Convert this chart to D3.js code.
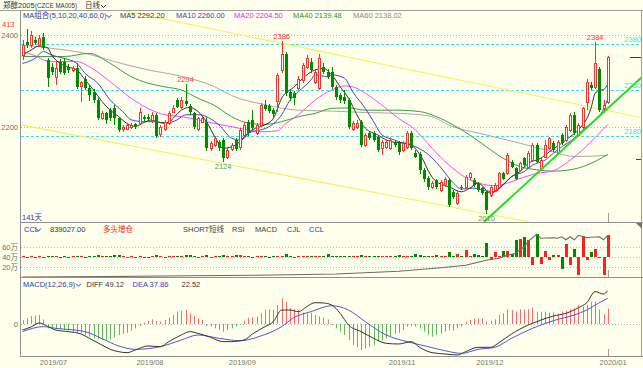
<!DOCTYPE html>
<html><head><meta charset="utf-8">
<script src="https://cdn.jsdelivr.net/npm/d3@7"></script>
<style>html,body{margin:0;padding:0;background:#FFFFEE;overflow:hidden}</style>
</head><body>
<script>
// ---------- DATA ----------
const opens=[2356,2385,2378,2389,2378,2396,2345,2331,2309,2342,
2342,2331,2324,2327,2289,2305,2284,2276,2258,2218,
2229,2236,2240,2218,2194,2196,2200,2205,2207,2222,
2222,2215,2226,2184,2194,2207,2233,2258,2242,2255,
2245,2229,2195,2211,2210,2153,2160,2167,2171,2135,
2151,2171,2156,2182,2211,2215,2186,2204,2247,2245,
2236,2255,2324,2358,2276,2273,2284,2302,2331,2342,
2298,2284,2331,2320,2320,2287,2269,2265,2258,2196,
2200,2211,2160,2186,2186,2178,2153,2156,2153,2167,
2164,2149,2156,2186,2142,2140,2106,2088,2069,2084,
2062,2073,2084,2058,2033,2069,2069,2091,2084,2077,
2066,2058,2051,2062,2069,2098,2098,2124,2109,2105,
2131,2113,2127,2160,2109,2135,2153,2164,2142,2182,
2171,2193,2226,2182,2200,2254,2291,2287,2326,2240,2254];
const highs=[2389,2413,2408,2395,2400,2405,2350,2340,2345,2348,
2350,2336,2333,2340,2300,2310,2290,2282,2262,2234,
2233,2240,2247,2222,2204,2208,2207,2209,2240,2226,
2228,2232,2230,2204,2215,2234,2247,2262,2265,2294,
2250,2233,2222,2222,2222,2168,2180,2172,2175,2155,
2165,2175,2197,2210,2215,2237,2208,2252,2258,2250,
2240,2318,2386,2362,2282,2278,2310,2340,2356,2349,
2326,2358,2338,2325,2331,2291,2274,2280,2262,2212,
2215,2215,2187,2190,2190,2182,2171,2171,2178,2171,
2168,2168,2190,2190,2150,2144,2110,2092,2082,2087,
2084,2090,2088,2062,2060,2073,2095,2102,2088,2080,
2069,2062,2073,2077,2102,2102,2142,2128,2113,2124,
2135,2146,2164,2164,2131,2171,2178,2168,2171,2186,
2204,2230,2231,2208,2244,2305,2298,2384,2331,2258,2355];
const lows=[2345,2372,2372,2378,2374,2368,2287,2312,2291,2315,
2312,2318,2320,2283,2254,2280,2255,2252,2214,2214,
2205,2212,2204,2188,2189,2192,2196,2195,2204,2212,
2212,2207,2176,2178,2190,2204,2229,2240,2238,2246,
2226,2196,2190,2207,2148,2148,2156,2148,2124,2130,
2146,2146,2150,2178,2180,2193,2182,2200,2234,2229,
2222,2233,2318,2268,2256,2247,2280,2296,2326,2318,
2294,2280,2316,2304,2283,2258,2252,2249,2196,2191,
2196,2156,2156,2171,2167,2145,2138,2151,2149,2156,
2138,2145,2151,2149,2131,2096,2080,2062,2064,2065,
2058,2069,2025,2042,2030,2062,2065,2084,2069,2058,
2051,2010,2047,2058,2066,2084,2095,2109,2084,2102,
2113,2109,2124,2120,2105,2131,2149,2145,2138,2160,
2167,2189,2182,2178,2196,2236,2280,2283,2232,2230,2250];
const closes=[2378,2378,2400,2382,2393,2371,2306,2320,2327,2320,
2317,2324,2329,2287,2297,2284,2269,2258,2218,2229,
2215,2218,2218,2193,2200,2204,2204,2199,2233,2216,
2216,2226,2180,2200,2211,2229,2241,2244,2258,2250,
2231,2200,2218,2218,2153,2164,2175,2153,2131,2150,
2160,2151,2193,2204,2186,2197,2204,2247,2239,2234,
2227,2313,2358,2273,2262,2262,2305,2335,2349,2324,
2320,2349,2320,2309,2287,2265,2258,2256,2200,2207,
2207,2160,2182,2175,2171,2149,2167,2167,2171,2160,
2145,2164,2186,2153,2135,2105,2086,2069,2077,2069,
2080,2085,2029,2047,2055,2066,2091,2100,2073,2062,
2055,2018,2069,2073,2098,2087,2138,2113,2087,2120,
2116,2142,2160,2124,2127,2160,2175,2149,2167,2164,
2200,2226,2186,2204,2240,2298,2284,2338,2236,2247,2352];

// moving averages: [bar index, value]
const ma5=[[0,2356],[2,2367],[4,2376],[6,2372],[7,2356],[9,2338],[11,2330],[13,2324],[15,2302],[17,2280],[19,2255],[21,2236],[23,2222],[25,2207],[27,2201],[29,2209],[31,2215],[33,2209],[35,2209],[36,2218],[38,2236],[40,2242],[42,2233],[44,2211],[46,2178],[48,2153],[50,2156],[53,2175],[55,2193],[58,2204],[60,2218],[62,2262],[65,2287],[67,2305],[70,2324],[72,2327],[74,2313],[76,2287],[78,2262],[80,2226],[82,2197],[85,2182],[87,2171],[89,2166],[92,2164],[94,2152],[95,2140],[96,2125],[97,2105],[98,2090],[99,2080],[100,2075],[102,2069],[105,2058],[107,2066],[109,2077],[112,2055],[114,2066],[117,2091],[119,2102],[121,2120],[124,2131],[126,2145],[129,2164],[131,2178],[133,2193],[136,2240],[137,2273],[138,2279],[139,2281],[140,2292.2]];
const ma10=[[0,2338],[3,2349],[5,2364],[7,2356],[10,2349],[13,2338],[15,2316],[18,2295],[21,2258],[24,2233],[26,2215],[29,2211],[32,2211],[34,2207],[37,2215],[39,2226],[42,2226],[44,2222],[46,2211],[47,2204],[50,2175],[52,2171],[54,2186],[57,2193],[59,2200],[62,2226],[64,2258],[66,2276],[69,2302],[70,2313],[73,2309],[74,2313],[77,2306],[79,2276],[82,2240],[84,2211],[86,2182],[89,2171],[91,2164],[93,2160],[95,2152],[97,2140],[99,2122],[100,2112],[103,2078],[105,2064],[108,2066],[110,2062],[113,2058],[115,2073],[117,2091],[120,2102],[122,2116],[125,2127],[127,2142],[129,2156],[132,2175],[134,2193],[137,2215],[139,2238],[140,2260]];
const ma20=[[0,2364],[3,2355],[6,2343],[10,2342],[13,2342],[16,2331],[21,2298],[26,2262],[30,2240],[34,2226],[38,2222],[42,2215],[46,2207],[50,2200],[54,2193],[58,2189],[61,2191],[63,2207],[66,2226],[70,2258],[74,2280],[77,2289],[79,2287],[82,2273],[86,2247],[90,2218],[94,2193],[97,2163],[99,2143],[103,2109],[107,2084],[111,2073],[113,2071],[116,2077],[119,2087],[123,2098],[127,2104],[131,2127],[135,2158],[138,2186],[140,2204.5]];
const ma40=[[0,2353],[10,2353],[16,2360],[21,2338],[26,2309],[30,2295],[34,2287],[38,2280],[42,2262],[46,2246],[50,2222],[54,2208],[58,2205],[62,2211],[66,2222],[70,2229],[74,2240],[78,2241],[82,2236],[90,2236],[95,2233],[99,2222],[103,2204],[107,2182],[111,2156],[115,2131],[119,2113],[123,2106],[127,2103],[131,2106],[135,2116],[140,2139.48]];
const ma60=[[0,2378],[7,2371],[15,2360],[22,2342],[30,2324],[38,2310],[46,2287],[50,2268],[58,2248],[66,2236],[74,2234],[82,2231],[90,2229],[97,2224],[103,2200],[111,2182],[119,2164],[127,2145],[132,2135],[137,2136],[140,2138.02]];

// drawn lines (price space): [bar index, price]
const channelUpper=[[24.8,2452],[148.5,2219]];
const channelLower=[[-0.4,2204],[121.4,1992]];
const greenTrend=[[110.4,1992],[148.5,2311]];
const levelLines=[2380,2280,2180];
const gridPrices=[2400,2200];
const peakIdx=[39,62,137];
const troughIdx=[48,111];

// open interest (万) read at sample bars, and daily change (万)
const oiLine=[[0,0.5],[20,1.5],[40,3],[60,4.5],[75,6.5],[90,12],[100,19],[106,24],[111,34],[114,38],[116,44],[118,48],[120,61],[121,72],[123,86],[124,78],[127,79],[128,78],[129,81],[130,75],[131,81],[132,75],[133,84],[135,79],[136,80],[138,81],[139,75],[140,83.9]];
const oiChg=[0.3,-0.3,0.3,0.2,0.3,-0.3,0.4,0.3,0.3,0.2,
0.3,0.2,0.3,0.4,0.3,0.2,0.3,0.5,0.8,0.3,
0.3,0.4,0.8,0.8,0.3,0.2,0.3,0.2,0.3,0.2,
0.2,0.3,0.8,0.3,0.2,0.3,0.3,0.3,0.4,0.8,
0.8,0.3,0.2,0.3,0.8,0.2,0.3,0.4,0.8,0.3,
0.3,0.6,0.6,0.3,0.3,0.2,0.3,0.3,0.3,0.2,
0.3,0.4,0.3,1.2,0.3,0.2,0.3,0.3,0.3,0.3,
0.3,0.3,0.4,1.2,0.4,0.3,0.3,0.3,0.5,0.3,
0.3,0.6,0.3,0.3,0.3,0.4,0.3,0.3,0.3,0.3,
0.6,0.3,0.3,0.3,1.2,0.8,0.3,0.3,0.3,0.8,
0.3,0.3,2.0,0.3,1.2,0.3,2.7,0.4,1.2,0.8,
0.4,5.6,-0.9,2.0,0.4,2.3,2.3,1.3,6.7,7.3,
8.0,6.8,-3.1,9.2,-2.7,2.3,-1.3,0.7,0.7,-4.7,
5.3,-3.3,3.3,-7.3,8.4,-1.3,2.0,3.3,-0.3,-7.3,8.7];
const oiTicks=[60,40,20];

// MACD
const macdHist=[5.9,8.4,11.8,12.3,13.3,6.9,-6.4,-6.4,-7.4,-7.9,
-8.8,-9.8,-11.3,-12.8,-12.8,-16.2,-18.7,-21.1,-22.6,-23.6,
-23.6,-22.6,-19.7,-16.2,-14.7,-12.8,-9.8,-6.4,-2.9,2.0,
4.4,6.9,4.4,3.4,5.9,9.8,13.3,18.2,19.7,20.6,
15.7,11.8,8.4,5.9,-2.9,-3.9,-6.4,-8.8,-11.3,-8.8,
-6.4,-3.9,-1.5,4.9,9.3,9.8,10.8,15.7,20.6,21.6,
20.6,28,37.9,32.9,23.1,21.6,20.6,16.7,15.7,16.7,
13.3,11.3,9.6,6.6,-1.5,-6.4,-11.3,-16.2,-23.6,-31,
-34.4,-38.3,-35.9,-33.4,-31,-26,-23.6,-21.1,-17.7,-14.7,
-12.8,-8.8,-3.9,-2.9,-3.9,-6.4,-11.3,-16.2,-18.7,-16.2,
-13.8,-11.3,-8.8,-9.8,-6.4,-3.9,3.4,5.9,8.4,8.4,
8.4,3.4,4.9,6.9,13.3,15.7,21.6,20.6,18.2,21.6,
21.6,21.6,24.1,18.2,18.2,18.2,16.7,16.7,15.7,18.2,
19.7,21.6,23.1,28,25.6,28,32.9,32.9,21.6,14.7,22.52];
const diffPts=[[0,-8.8],[2,-4.5],[4,1.5],[6,-3.5],[8,-9],[11,-11.3],[14,-14.7],[16,-21.1],[19,-31],[21,-37.4],[23,-40.8],[25,-42.3],[27,-38.3],[30,-32.4],[33,-33.4],[35,-26],[38,-16.2],[40,-11.3],[42,-13.8],[45,-19.7],[48,-26],[50,-26],[53,-23.6],[55,-14.7],[58,-3.9],[60,3.4],[62,20.6],[64,20.6],[66,18.2],[68,25.6],[70,31.5],[72,31],[74,28],[76,15.7],[78,-1.5],[81,-11.3],[84,-21.1],[87,-28.5],[90,-29.5],[93,-26],[95,-34.4],[98,-42.3],[101,-44.2],[104,-45.7],[106,-40.8],[109,-34.4],[112,-34.4],[114,-27.5],[117,-14.7],[121,-1.5],[123,3.4],[127,11.8],[130,15.7],[133,24.1],[135,31.5],[137,47.7],[139,44.2],[140,49.12]];
const deaPts=[[0,-11.3],[5,-3.9],[8,-6.4],[15,-11.3],[19,-21.5],[23,-32.4],[27,-37.4],[33,-33.4],[38,-23.6],[42,-16.2],[47,-21.1],[52,-24.6],[57,-17.7],[62,-3.9],[65,9.8],[69,18.2],[74,27],[78,20.6],[82,3.4],[87,-16.2],[92,-26],[97,-33.4],[101,-39.3],[105,-43.3],[109,-37.4],[113,-34.4],[117,-21.1],[122,-6.4],[127,4.9],[132,13.3],[135,20.6],[138,31.5],[140,37.86]];

const monthLabels=['2019/07','2019/08','2019/09','2019/11','2019/12','2020/01'];
const monthPos=[7.4,30.5,52.6,90.8,111.8,141.3];

// ---------- DRAWING ----------
const W=643,H=368,BG='#FFFFEE';
const FONT="'Liberation Sans','Noto Sans CJK SC',sans-serif";
const RED='#FF3030',GRN='#008A00';
const svg=d3.select('body').append('svg').attr('width',W).attr('height',H).style('display','block');
svg.append('rect').attr('width',W).attr('height',H).attr('fill',BG);

const n=closes.length;
const x=d3.scaleLinear().domain([0,n-1]).range([22.5,607.7]);
const yP=d3.scaleLinear().domain([2200,2400]).range([126.7,35]);
const yOI=d3.scaleLinear().domain([0,60]).range([277.3,247.3]);
const yChg=d3.scaleLinear().domain([0,10]).range([257,232]);
const yM=d3.scaleLinear().domain([0,49.12]).range([324,290.7]);

const defs=svg.append('defs');
function clip(id,x0,y0,w,h){defs.append('clipPath').attr('id',id).append('rect').attr('x',x0).attr('y',y0).attr('width',w).attr('height',h);}
clip('cpP',21,11,620,211.5);
clip('cpO',21,223,620,54);
clip('cpM',21,278,620,78);

function txt(g,xx,yy,s,color,anchor,size){
  return g.append('text').attr('x',xx).attr('y',yy).text(s).attr('fill',color)
   .attr('font-family',FONT).attr('font-size',size||7.5).attr('text-anchor',anchor||'start');
}
function hline(y,x1,x2,color,dash){
  const l=svg.append('line').attr('x1',x1).attr('x2',x2).attr('y1',y).attr('y2',y).attr('stroke',color).attr('stroke-width',1);
  if(dash) l.attr('stroke-dasharray',dash);
  return l;
}
function chevron(xx,yy,color){
  svg.append('path').attr('d',`M${xx},${yy-3}L${xx+2.5},${yy-0.5}L${xx+5},${yy-3}`).attr('fill','none').attr('stroke',color).attr('stroke-width',1);
}
const snap=v=>Math.round(v)+0.5;

// frame lines
hline(10.5,0,643,'#A0A0A0');
hline(222.5,20,643,'#909090');
hline(277.5,20,643,'#909090');
hline(356.5,20,643,'#909090');
svg.append('line').attr('x1',20.5).attr('x2',20.5).attr('y1',10).attr('y2',357).attr('stroke','#909090');
svg.append('line').attr('x1',641.5).attr('x2',641.5).attr('y1',10).attr('y2',357).attr('stroke','#A0A0A0');

// ---- price panel ----
const gP=svg.append('g').attr('clip-path','url(#cpP)');
gridPrices.forEach(p=>{gP.append('line').attr('x1',21).attr('x2',641).attr('y1',snap(yP(p))).attr('y2',snap(yP(p))).attr('stroke','#B5B5B5').attr('stroke-dasharray','1,2');});
levelLines.forEach(p=>{gP.append('line').attr('x1',21).attr('x2',641).attr('y1',snap(yP(p))).attr('y2',snap(yP(p))).attr('stroke','#3ADDEE').attr('stroke-dasharray','3,2');});

const tl=d3.line().x(d=>x(d[0])).y(d=>yP(d[1]));
gP.append('path').attr('d',tl(channelUpper)).attr('stroke','#F2F25A').attr('fill','none').attr('stroke-width',1.1);
gP.append('path').attr('d',tl(channelLower)).attr('stroke','#F2F25A').attr('fill','none').attr('stroke-width',1.1);

// MA lines
const maLine=d3.line().x(d=>x(d[0])).y(d=>yP(d[1])).curve(d3.curveMonotoneX);
[[ma60,'#A8A8A8'],[ma40,'#3E9E3E'],[ma20,'#FF44FF'],[ma10,'#4646C8'],[ma5,'#303030']].forEach(([d,c])=>{
  gP.append('path').attr('d',maLine(d)).attr('stroke',c).attr('fill','none').attr('stroke-width',1);
});

// candles
for(let i=0;i<n;i++){
  const cx=snap(x(i));
  const up=closes[i]>=opens[i];
  const yo=yP(opens[i]),yc=yP(closes[i]),yh=Math.round(yP(highs[i])),yl=Math.round(yP(lows[i]));
  const top=Math.round(Math.min(yo,yc)),bot=Math.round(Math.max(yo,yc));
  const col=up?RED:GRN;
  if(up){
    if(top>yh) gP.append('line').attr('x1',cx).attr('x2',cx).attr('y1',yh).attr('y2',top).attr('stroke',col);
    if(yl>bot) gP.append('line').attr('x1',cx).attr('x2',cx).attr('y1',bot).attr('y2',yl).attr('stroke',col);
    gP.append('rect').attr('x',cx-1).attr('y',top+0.5).attr('width',2).attr('height',Math.max(bot-top,1)).attr('fill',BG).attr('stroke',col).attr('stroke-width',1);
  } else {
    gP.append('line').attr('x1',cx).attr('x2',cx).attr('y1',yh).attr('y2',yl).attr('stroke',col);
    gP.append('rect').attr('x',cx-1.5).attr('y',top).attr('width',3).attr('height',Math.max(bot-top,1)).attr('fill',col);
  }
}
gP.append('path').attr('d',tl(greenTrend)).attr('stroke','#22DD22').attr('fill','none').attr('stroke-width',2);
// last-bar marker
gP.append('line').attr('x1',snap(x(n-1))).attr('x2',snap(x(n-1))).attr('y1',213).attr('y2',222).attr('stroke','#A0A0A0');

// peak/trough labels
peakIdx.forEach(i=>txt(svg,x(i),yP(highs[i])-2,String(highs[i]),'#FF3333','middle'));
troughIdx.forEach(i=>txt(svg,x(i),yP(lows[i])+7.5,String(lows[i]),'#5A9E5A','middle'));
txt(svg,2,27,'413','#FF3333');

// level labels (right)
levelLines.forEach(p=>txt(svg,641,yP(p)-2,String(p),'#3ADDEE','end'));
// y labels
gridPrices.forEach(p=>txt(svg,18,yP(p)+3,String(p),'#707070','end'));
// right ticks
svg.append('line').attr('x1',630).attr('x2',641).attr('y1',57.5).attr('y2',57.5).attr('stroke','#333388');
svg.append('line').attr('x1',636).attr('x2',641).attr('y1',159.5).attr('y2',159.5).attr('stroke','#333388');

// header & legends
txt(svg,3,8,'郑醇2005','#333333',null,7.5);
txt(svg,35,8,'(CZCE MA005)','#333333',null,7).attr('textLength',42).attr('lengthAdjust','spacingAndGlyphs');
txt(svg,85,8,'日线','#333333',null,7.5);
chevron(101,8,'#333333');
txt(svg,23,18,'MA组合(5,10,20,40,60,0)','#2B3BA8');
chevron(106.5,18,'#2B3BA8');
txt(svg,120,18,'MA5 2292.20','#333355');
txt(svg,176,18,'MA10 2260.00','#3B3BB8');
txt(svg,234,18,'MA20 2204.50','#EE22EE');
txt(svg,293,18,'MA40 2139.48','#2A962A');
txt(svg,353,18,'MA60 2138.02','#8A8A8A');
txt(svg,22,220,'141天','#2233AA');

// ---- CCL panel ----
const gO=svg.append('g').attr('clip-path','url(#cpO)');
oiTicks.forEach(v=>gO.append('line').attr('x1',21).attr('x2',641).attr('y1',snap(yOI(v))).attr('y2',snap(yOI(v))).attr('stroke','#BBBBBB').attr('stroke-dasharray','1,2'));
for(let i=0;i<n;i++){
  const cx=snap(x(i));
  const up=closes[i]>=opens[i];
  const y0=yChg(0),y1=yChg(oiChg[i]);
  let t=Math.round(Math.min(y0,y1)),h=Math.max(Math.round(Math.abs(y1-y0)),1);
  gO.append('rect').attr('x',cx-1.5).attr('y',t).attr('width',3).attr('height',h).attr('fill',up?'#FF2020':'#008800');
}
gO.append('path').attr('d',d3.line().x(d=>x(d[0])).y(d=>yOI(d[1]))(oiLine)).attr('stroke','#6A6A6A').attr('fill','none').attr('stroke-width',1.1);
gO.append('line').attr('x1',snap(x(n-1))).attr('x2',snap(x(n-1))).attr('y1',270).attr('y2',277).attr('stroke','#A0A0A0');
svg.append('path').attr('d','M636,223L642,223L642,229Z').attr('fill','#707070');
oiTicks.forEach(v=>txt(svg,18,yOI(v)+3,v+'万','#707070','end'));
txt(svg,24,231.5,'CCL','#2233BB');
chevron(36,231.5,'#2233BB');
txt(svg,50,231.5,'839027.00','#333333');
txt(svg,103,231.5,'多头增仓','#FF2222');
txt(svg,183,231.5,'SHORT短线','#444444');
txt(svg,232,231.5,'RSI','#444444');
txt(svg,255,231.5,'MACD','#444444');
txt(svg,287,231.5,'CJL','#444444');
txt(svg,309,231.5,'CCL','#2233BB');

// ---- MACD panel ----
const gM=svg.append('g').attr('clip-path','url(#cpM)');
gM.append('line').attr('x1',21).attr('x2',641).attr('y1',snap(yM(0))).attr('y2',snap(yM(0))).attr('stroke','#BBBBBB').attr('stroke-dasharray','1,2');
for(let i=0;i<n;i++){
  const cx=snap(x(i));
  const v=macdHist[i];
  gM.append('line').attr('x1',cx).attr('x2',cx).attr('y1',yM(0)).attr('y2',yM(v)).attr('stroke',v>=0?'#FF6A6A':'#62B862').attr('stroke-width',1);
}
const mLine=d3.line().x(d=>x(d[0])).y(d=>yM(d[1])).curve(d3.curveMonotoneX);
gM.append('path').attr('d',mLine(deaPts)).attr('stroke','#5555D0').attr('fill','none').attr('stroke-width',1);
gM.append('path').attr('d',mLine(diffPts)).attr('stroke','#333333').attr('fill','none').attr('stroke-width',1);
gM.append('line').attr('x1',snap(x(n-1))).attr('x2',snap(x(n-1))).attr('y1',349).attr('y2',356).attr('stroke','#A0A0A0');
txt(svg,18,327,'0','#707070','end');
txt(svg,23,286.7,'MACD(12,26,9)','#2B3BA8');
chevron(76,286.7,'#2B3BA8');
txt(svg,86.5,286.7,'DIFF 49.12','#333333');
txt(svg,132.5,286.7,'DEA 37.86','#3B3BB8');
txt(svg,181.5,286.7,'22.52','#333333');

// x labels
monthLabels.forEach((s,k)=>txt(svg,x(monthPos[k]),365,s,'#777777','middle'));
</script>
</body></html>
